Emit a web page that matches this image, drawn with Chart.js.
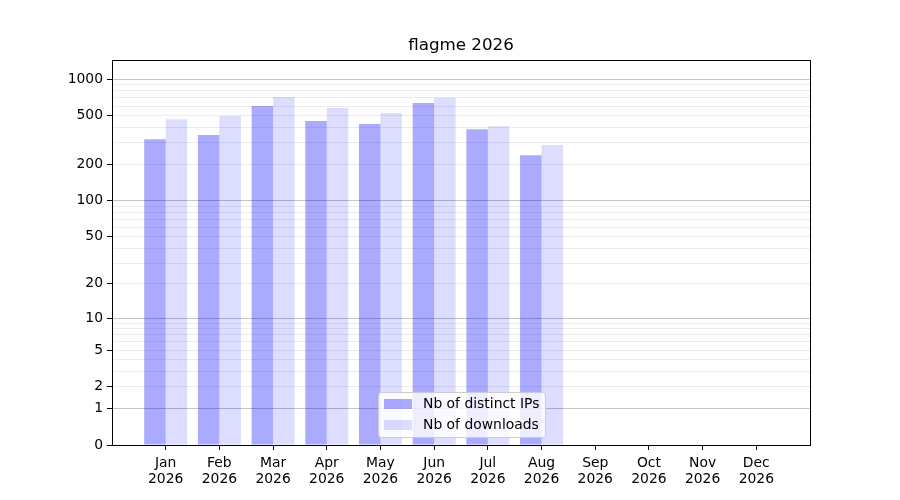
<!DOCTYPE html>
<html>
<head>
<meta charset="utf-8">
<title>flagme 2026</title>
<script src="https://cdn.jsdelivr.net/npm/chart.js@4/dist/chart.umd.min.js"></script>
<style>
  html, body { margin: 0; padding: 0; background: #fff; }
</style>
</head>
<body>
<canvas id="myChart" width="900" height="500"></canvas>
<script>
const months = ["Jan", "Feb", "Mar", "Apr", "May", "Jun", "Jul", "Aug", "Sep", "Oct", "Nov", "Dec"];
const year = "2026";
const chartTitle = "flagme 2026";
const distinctIPs = [321, 347, 601, 452, 427, 636, 388, 237, 0, 0, 0, 0];
const downloads = [469, 497, 712, 578, 526, 703, 411, 287, 0, 0, 0, 0];
const yTickLabels = [0, 1, 2, 5, 10, 20, 50, 100, 200, 500, 1000];
const yMinorTicks = [3, 4, 6, 7, 8, 9, 30, 40, 60, 70, 80, 90, 300, 400, 600, 700, 800, 900];
const yMajorGrid = [1, 10, 100, 1000];
const yTop = 1435;

// the y axis is log10(1 + v)
const fwd = (v) => Math.log10(1 + v);
const inv = (t) => Math.round(Math.pow(10, t) - 1);

const FONT = "'DejaVu Sans', sans-serif";

// frame, title over the plot area, and the legend inside it
const framePlugin = {
  id: "frame",
  afterDraw(chart) {
    const { ctx, chartArea: a } = chart;
    ctx.save();
    ctx.strokeStyle = "#000";
    ctx.lineWidth = 1;
    ctx.strokeRect(Math.round(a.left) + 0.5, Math.round(a.top) + 0.5,
      Math.round(a.right - a.left), Math.round(a.bottom - a.top));

    ctx.fillStyle = "#000";
    ctx.font = "16.7px " + FONT;
    ctx.textAlign = "center";
    ctx.textBaseline = "middle";
    ctx.fillText(chartTitle, (a.left + a.right) / 2, 46);

    const w = 167, h = 45;
    const x = Math.round((a.left + a.right) / 2 - w / 2);
    const y = Math.round(a.bottom - 8 - h);
    ctx.beginPath();
    ctx.roundRect(x + 0.5, y + 0.5, w, h, 3);
    ctx.fillStyle = "rgba(255,255,255,0.8)";
    ctx.fill();
    ctx.strokeStyle = "#cccccc";
    ctx.stroke();
    ctx.font = "13.9px " + FONT;
    ctx.textAlign = "left";
    chart.data.datasets.forEach((ds, i) => {
      const cy = y + 12 + i * 21;
      ctx.fillStyle = ds.backgroundColor;
      ctx.fillRect(x + 6, cy - 5, 28, 10);
      ctx.fillStyle = "#000";
      ctx.fillText(ds.label, x + 45, cy);
    });
    ctx.restore();
  },
};

new Chart(document.getElementById("myChart"), {
  type: "bar",
  data: {
    datasets: [
      {
        label: "Nb of distinct IPs",
        data: distinctIPs.map((v, i) => ({ x: i, y: fwd(v) })),
        backgroundColor: "rgba(0, 0, 255, 0.333)",
        borderWidth: 0,
        categoryPercentage: 0.8,
        barPercentage: 1.0,
      },
      {
        label: "Nb of downloads",
        data: downloads.map((v, i) => ({ x: i, y: fwd(v) })),
        backgroundColor: "rgba(0, 0, 255, 0.133)",
        borderWidth: 0,
        categoryPercentage: 0.8,
        barPercentage: 1.0,
      },
    ],
  },
  options: {
    responsive: false,
    animation: false,
    layout: { padding: { left: 0, right: 90, top: 60, bottom: 0 } },
    plugins: {
      legend: { display: false },
      tooltip: { enabled: false },
      title: { display: false },
    },
    scales: {
      x: {
        type: "linear",
        min: -1,
        max: 12,
        offset: false,
        afterBuildTicks: (s) => { s.ticks = months.map((m, i) => ({ value: i })); },
        afterFit: (s) => { s.height = 55; },
        ticks: {
          autoSkip: false,
          maxRotation: 0,
          padding: 6,
          color: "#000",
          font: { family: FONT, size: 13.9, lineHeight: 1.1 },
          callback: (v) => [months[v], year],
        },
        grid: { offset: false, drawOnChartArea: false, tickLength: 5, tickColor: "#000" },
        border: { display: false },
      },
      y: {
        type: "linear",
        min: 0,
        max: fwd(yTop),
        afterBuildTicks: (s) => {
          s.ticks = yTickLabels.concat(yMinorTicks).sort((a, b) => a - b).map((v) => ({ value: fwd(v) }));
        },
        afterFit: (s) => { s.width = 112; },
        ticks: {
          autoSkip: false,
          padding: 4,
          color: "#000",
          font: { family: FONT, size: 13.9 },
          callback: (t) => { const v = inv(t); return yTickLabels.includes(v) ? String(v) : ""; },
        },
        grid: {
          tickLength: 5,
          color: (c) => yMajorGrid.includes(inv(c.tick.value)) ? "#c4c4c4" : "#ececec",
          tickColor: (c) => yTickLabels.includes(inv(c.tick.value)) ? "#000" : "rgba(0,0,0,0)",
        },
        border: { display: false },
      },
    },
  },
  plugins: [framePlugin],
});
</script>
</body>
</html>
